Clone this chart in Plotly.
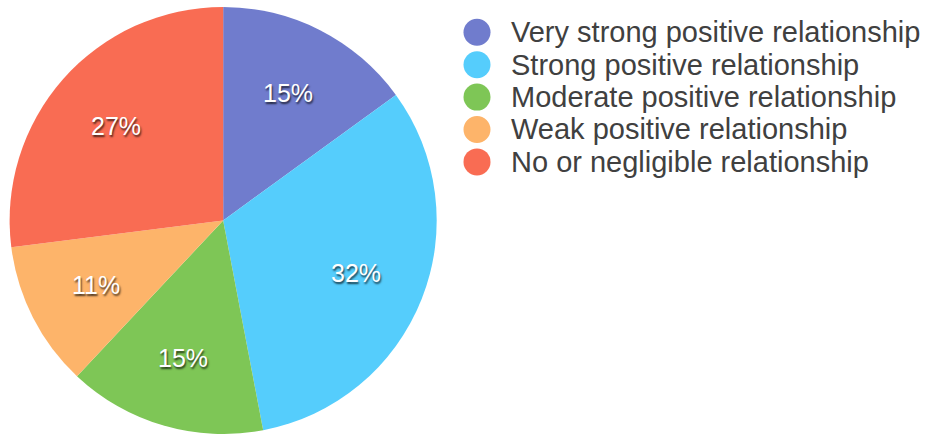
import math
import plotly.graph_objects as go

categories = [
    "Very strong positive relationship",
    "Strong positive relationship",
    "Moderate positive relationship",
    "Weak positive relationship",
    "No or negligible relationship",
]
values = [15, 32, 15, 11, 27]
colors = ["#707ccd", "#55cdfc", "#7ec656", "#fdb46a", "#f96c53"]

W, H = 925, 434
FONT = "Liberation Sans, Arial, sans-serif"

pie_dom_x = [0.0092, 0.4733]
pie_dom_y = [0.0, 0.984]

fig = go.Figure()
fig.add_trace(go.Pie(
    labels=categories,
    values=values,
    sort=False,
    direction="clockwise",
    rotation=0,
    marker=dict(colors=colors, line=dict(width=0)),
    textinfo="none",
    domain=dict(x=pie_dom_x, y=pie_dom_y),
    showlegend=False,
    hoverinfo="label+percent",
))

# Percent labels placed along each slice's mid-angle (derived from the values)
cx = (pie_dom_x[0] + pie_dom_x[1]) / 2 * W
cy_pie = (1 - (pie_dom_y[0] + pie_dom_y[1]) / 2) * H
R = min((pie_dom_x[1] - pie_dom_x[0]) * W, (pie_dom_y[1] - pie_dom_y[0]) * H) / 2
total = sum(values)
annotations = []
cum = 0
for v in values:
    mid = (cum + v / 2) / total * 2 * math.pi
    cum += v
    px = cx + 0.67 * R * math.sin(mid)
    py = cy_pie - 0.67 * R * math.cos(mid)
    annotations.append(dict(xref="paper", yref="paper", x=px / W, y=1 - py / H,
                            xanchor="center", yanchor="middle", showarrow=False,
                            text=f"{round(100 * v / total)}%",
                            font=dict(family=FONT, size=25, color="white",
                                      shadow="1px 2px 2px rgba(0,0,0,0.7)")))

# Legend drawn as circles + labels, one row per category
leg_cx, leg_r, leg_top, leg_step, txt_x = 477, 13.5, 32.3, 32.4, 509
shapes = []
for i, (name, col) in enumerate(zip(categories, colors)):
    cy = leg_top + i * leg_step
    shapes.append(dict(type="circle", xref="paper", yref="paper",
                       x0=(leg_cx - leg_r) / W, x1=(leg_cx + leg_r) / W,
                       y0=1 - (cy + leg_r) / H, y1=1 - (cy - leg_r) / H,
                       fillcolor=col, line=dict(width=0)))
    annotations.append(dict(xref="paper", yref="paper", x=txt_x / W, y=1 - cy / H,
                            xanchor="left", yanchor="middle", showarrow=False,
                            text=name,
                            font=dict(family=FONT, size=29, color="#404040")))

fig.update_layout(
    width=W, height=H,
    margin=dict(l=0, r=0, t=0, b=0),
    paper_bgcolor="white", plot_bgcolor="white",
    shapes=shapes, annotations=annotations,
)

fig.write_html("out.html",
               config={"displayModeBar": False},
               post_script="document.body.style.margin='0';document.body.style.overflow='hidden';")
